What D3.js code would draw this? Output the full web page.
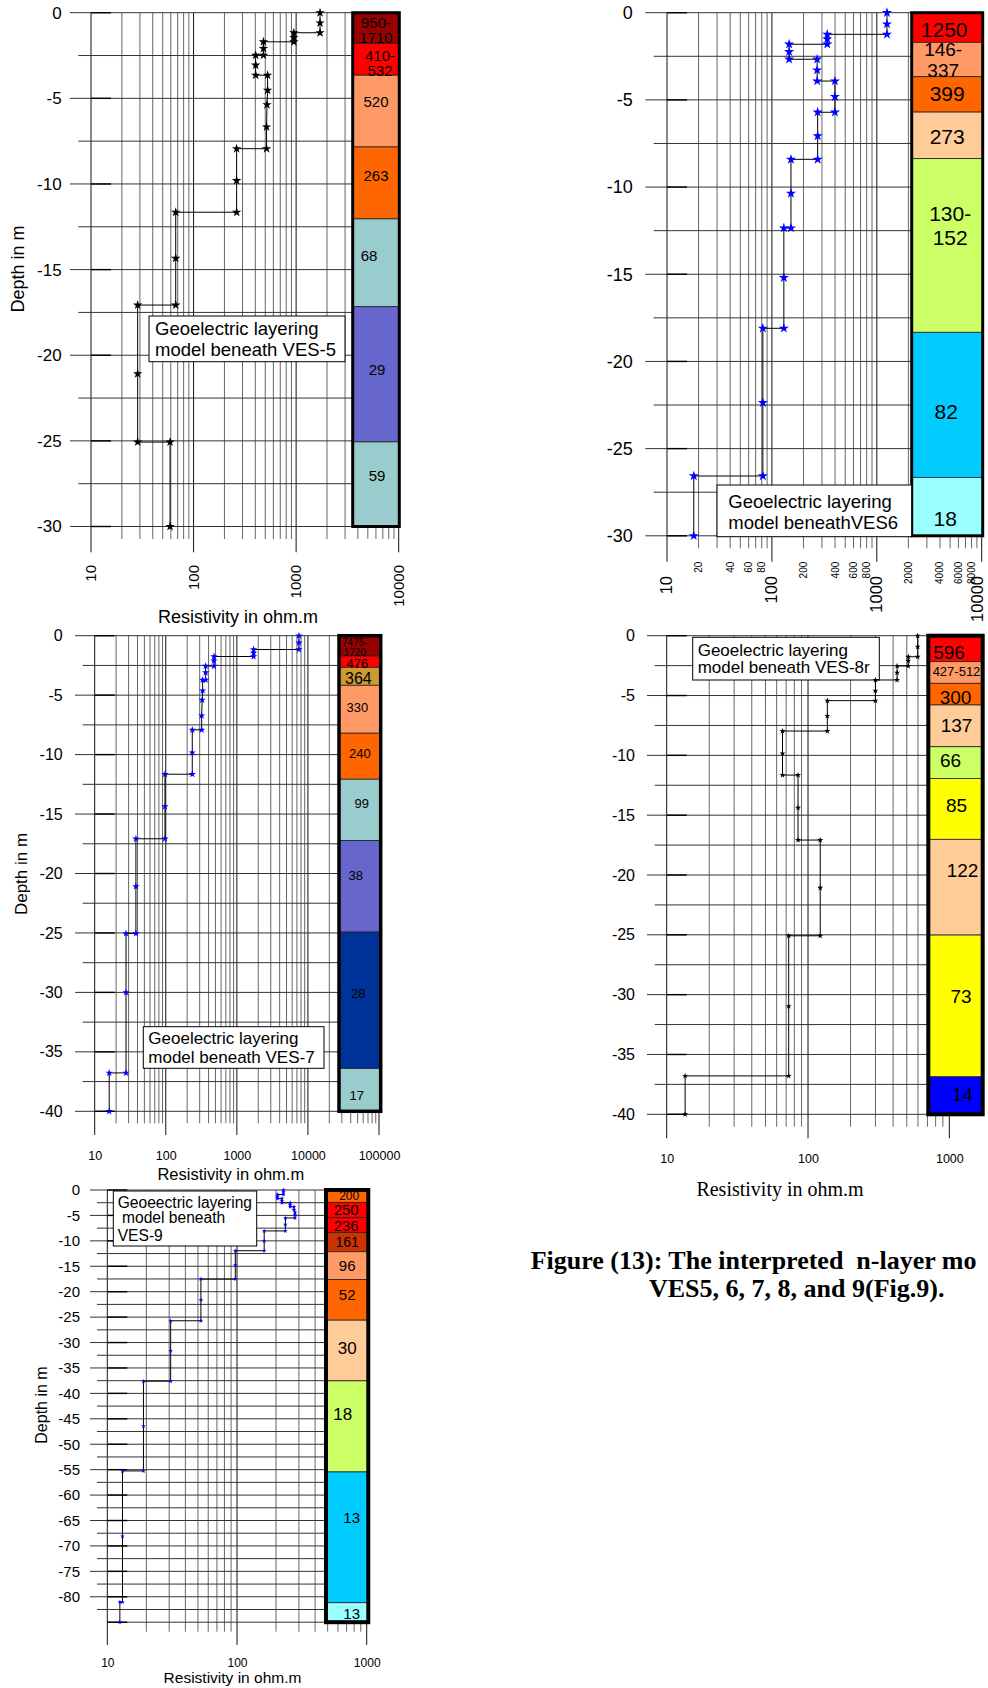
<!DOCTYPE html>
<html>
<head>
<meta charset="utf-8">
<title>Geoelectric layering models beneath VES-5 to VES-9</title>
<script src="https://cdn.jsdelivr.net/npm/d3@7/dist/d3.min.js"></script>
<style>
  body { margin: 0; background: #fff; }
  svg { display: block; }
</style>
</head>
<body>
<script>
// ---------- values ----------
// VES-5
const ves5Rho   = [1710,1710,1710,950,950,950,480,480,480,403,403,403,527,527,520,515,515,263,263,263,67,67,67,28.5,28.5,28.5,59,59];
const ves5Depth = [0,-0.6,-1.17,-1.17,-1.45,-1.7,-1.7,-2.09,-2.48,-2.48,-3.06,-3.65,-3.65,-4.53,-5.37,-6.67,-7.94,-7.94,-9.8,-11.65,-11.65,-14.34,-17.07,-17.07,-21.08,-25.07,-25.07,-30];
const ves5Top   = [0,-1.8,-3.65,-7.84,-12.04,-17.17,-25.06];
const ves5Base  = [-1.8,-3.65,-7.84,-12.04,-17.17,-25.06,-30];
const ves5Layer = ['950-\n1710','410-\n532','520','263','68','29','59'];
const ves5Note  = ['Geoelectric layering','model beneath VES-5'];
const ves5DepthTicks = [0,-5,-10,-15,-20,-25,-30];
const ves5RhoTicks   = [10,100,1000,10000];

// VES6
const ves6Rho   = [1250,1250,1250,337,337,337,146,146,146,270,270,270,399,399,399,273,273,273,152,152,152,130,130,130,82,82,82,18,18];
const ves6Depth = [0,-0.65,-1.24,-1.24,-1.51,-1.81,-1.81,-2.24,-2.67,-2.67,-3.29,-3.92,-3.92,-4.82,-5.71,-5.71,-7.07,-8.41,-8.41,-10.36,-12.35,-12.35,-15.2,-18.1,-18.1,-22.36,-26.57,-26.57,-30];
const ves6Top   = [0,-1.7,-3.67,-5.7,-8.37,-18.33,-26.65];
const ves6Base  = [-1.7,-3.67,-5.7,-8.37,-18.33,-26.65,-30];
const ves6Layer = ['1250','146-\n337','399','273','130-\n152','82','18'];
const ves6Note  = ['Geoelectric layering','model beneathVES6'];
const ves6DepthTicks = [0,-5,-10,-15,-20,-25,-30];
const ves6RhoTicks   = [10,100,1000,10000];
const ves6RhoMinor   = [20,40,60,80,200,400,600,800,2000,4000,6000,8000];

// VES-7
const ves7Rho   = [7475,7475,7475,1720,1720,1720,476,476,476,364,364,364,330,330,325,320,320,236,236,236,97.5,97.5,97.5,38,38,38,27.6,27.6,27.6,16,16];
const ves7Depth = [0,-0.59,-1.16,-1.16,-1.45,-1.75,-1.75,-2.1,-2.55,-2.55,-3.1,-3.72,-3.72,-4.62,-5.4,-6.72,-7.92,-7.92,-9.83,-11.65,-11.65,-14.37,-17.08,-17.08,-21.09,-25.04,-25.04,-30,-36.77,-36.77,-40];
const ves7Top   = [0,-1.71,-2.66,-4.17,-8.2,-12.07,-17.23,-24.93,-36.4];
const ves7Base  = [-1.71,-2.66,-4.17,-8.2,-12.07,-17.23,-24.93,-36.4,-40];
const ves7Layer = ['7475-\n1720','476','364','330','240','99','38','28','17'];
const ves7Note  = ['Geoelectric layering','model beneath VES-7'];
const ves7DepthTicks = [0,-5,-10,-15,-20,-25,-30,-35,-40];
const ves7RhoTicks   = [10,100,1000,10000,100000];

// VES-8r
const ves8Rho   = [597,597,597,512,512,512,427,427,427,300,300,300,137,137,137,66,66,66,85,85,85,122,122,122,73,73,73,13.5,13.5];
const ves8Depth = [0,-0.92,-1.76,-1.76,-2.1,-2.53,-2.53,-3.09,-3.7,-3.7,-4.6,-5.43,-5.43,-6.71,-7.97,-7.97,-9.84,-11.65,-11.65,-14.38,-17.08,-17.08,-21.07,-25.08,-25.08,-30.96,-36.79,-36.79,-40];
const ves8Top   = [0,-2.17,-3.98,-5.79,-9.28,-11.93,-17.02,-25.02,-36.87];
const ves8Base  = [-2.17,-3.98,-5.79,-9.28,-11.93,-17.02,-25.02,-36.87,-40];
const ves8Layer = ['596','427-512','300','137','66','85','122','73','14'];
const ves8Note  = ['Geoelectric layering','model beneath VES-8r'];
const ves8DepthTicks = [0,-5,-10,-15,-20,-25,-30,-35,-40];
const ves8RhoTicks   = [10,100,1000];

// VES-9
const ves9Rho   = [228,228,228,205,205,205,222,222,222,257,257,257,275,275,280,280,280,236,236,236,162,162,162,97,97,97,52.7,52.7,52.7,30.8,30.8,30.8,19,19,19,13.1,13.1,13.1,12.5,12.5];
const ves9Depth = [0,-0.45,-0.9,-0.9,-1.3,-1.7,-1.7,-2.1,-2.5,-2.5,-2.9,-3.3,-3.3,-3.9,-4.4,-4.9,-5.5,-5.5,-6.8,-8.05,-8.05,-10.04,-11.94,-11.94,-14.76,-17.52,-17.52,-21.65,-25.72,-25.72,-31.63,-37.6,-37.6,-46.4,-55.25,-55.25,-68.1,-81.04,-81.04,-85];
const ves9Top   = [0,-2.43,-5.45,-8.33,-12.14,-17.59,-25.6,-37.53,-55.45,-81.17];
const ves9Base  = [-2.43,-5.45,-8.33,-12.14,-17.59,-25.6,-37.53,-55.45,-81.17,-85];
const ves9Layer = ['200','250','236','161','96','52','30','18','13','13'];
const ves9Note  = ['Geoeectric layering',' model beneath','VES-9'];
const ves9DepthTicks = [0,-5,-10,-15,-20,-25,-30,-35,-40,-45,-50,-55,-60,-65,-70,-75,-80];
const ves9RhoTicks   = [10,100,1000];

// caption as far as it shows on the page
const captionLines = ['Figure (13): The interpreted  n-layer mo', 'VES5, 6, 7, 8, and 9(Fig.9).'];

// ---------- layout / style ----------
const W = 988, H = 1688;
const SANS = '"Liberation Sans", Arial, sans-serif';
const SERIF = '"Liberation Serif", "Times New Roman", serif';

const svg = d3.select('body').append('svg').attr('width', W).attr('height', H);

const panels = [
  { rho: ves5Rho, depth: ves5Depth, top: ves5Top, base: ves5Base, labels: ves5Layer,
    colors: ['#990000','#ff0000','#ff9966','#ff6600','#99cccc','#6666cc','#99cccc'],
    xDomain: [10, 10000], xRange: [91, 398.7], yDomain: [0, -30], yRange: [12.7, 526.5],
    col: [352.7, 399.3], colBorder: 3, hStart: [70, 78.3], vEnd: [539, 552.3],
    yTicks: ves5DepthTicks, yLabelX: 61.7, yFont: 17,
    xTicks: ves5RhoTicks, xRotate: true, xLabelY: 565, xFont: 15,
    xTitle: { x: 238, y: 617, fs: 18 }, yTitle: { x: 17.5, y: 269, fs: 18 },
    box: { x: 149, y: 316, w: 196, h: 45.7, tx: 155, ty: [335, 355.7], fs: 18.5, lines: ves5Note },
    starSize: 28, starColor: '#000',
    labelFont: [15,15,15,15,15,15,15], labelLh: 1.0,
    labelDx: [0,4,0,0,-7,1,1], labelDy: [2,3.4,-9,-7.5,-7,-5,-8.7] },

  { rho: ves6Rho, depth: ves6Depth, top: ves6Top, base: ves6Base, labels: ves6Layer,
    colors: ['#ff0000','#ff9966','#ff6600','#ffcc99','#ccff66','#00ccff','#99ffff'],
    xDomain: [10, 10000], xRange: [667, 981.7], yDomain: [0, -30], yRange: [12.7, 535.8],
    col: [911.7, 982.7], colBorder: 3, hStart: [645.3, 653.7], vEnd: [548.3, 561.7],
    yTicks: ves6DepthTicks, yLabelX: 632.7, yFont: 18,
    xTicks: ves6RhoTicks, xRotate: true, xLabelY: 576, xFont: 16.5,
    xMinor: ves6RhoMinor, xMinorY: 561.7, xMinorFont: 10,
    box: { x: 717, y: 485, w: 194.7, h: 51.7, tx: 728.3, ty: [508.3, 529.3], fs: 18.5, lines: ves6Note },
    starSize: 32, starColor: '#0000ff',
    labelFont: [21,19,21,21,21,21,21], labelLh: 1.1,
    labelDx: [-3,-4,0,0,3,-1,-2], labelDy: [2,0,-1,1,-20,7,12] },

  { rho: ves7Rho, depth: ves7Depth, top: ves7Top, base: ves7Base, labels: ves7Layer,
    colors: ['#990000','#ff0000','#cc9933','#ff9966','#ff6600','#99cccc','#6666cc','#003399','#99cccc'],
    xDomain: [10, 100000], xRange: [94.7, 379], yDomain: [0, -40], yRange: [635.7, 1111.3],
    col: [339, 380.7], colBorder: 3.5, hStart: [75, 82.7], vEnd: [1123.3, 1135],
    yTicks: ves7DepthTicks, yLabelX: 62.7, yFont: 16,
    xTicks: ves7RhoTicks, xRotate: false, xLabelY: 1156, xFont: 12.5,
    xTitle: { x: 230.8, y: 1174, fs: 16.5 }, yTitle: { x: 21, y: 874, fs: 17 },
    box: { x: 143.3, y: 1026.7, w: 180.7, h: 41.6, tx: 148.3, ty: [1044, 1063.3], fs: 17, lines: ves7Note },
    starSize: 17, starColor: '#0000ff',
    labelFont: [10,13,16,13,13,13,13,13,13], labelLh: 0.95,
    labelDx: [-5,-2.5,-1.5,-2.5,0,2,-4,-1.5,-3], labelDy: [1.5,1.6,2,-2,-3,-6.7,-11,-6.7,5] },

  { rho: ves8Rho, depth: ves8Depth, top: ves8Top, base: ves8Base, labels: ves8Layer,
    colors: ['#ff0000','#ff9966','#ff6600','#ffcc99','#ccff66','#ffff00','#ffcc99','#ffff00','#0000ff'],
    xDomain: [10, 1700], xRange: [666.7, 981.9], yDomain: [0, -40], yRange: [635.7, 1114.3],
    col: [928.3, 982.7], colBorder: 4, hStart: [647, 654.7], vEnd: [1126.7, 1138.3],
    yTicks: ves8DepthTicks, yLabelX: 635, yFont: 16,
    xTicks: ves8RhoTicks, xRotate: false, xLabelY: 1158.3, xFont: 12.5,
    xTitle: { x: 780, y: 1189, fs: 20, serif: true },
    box: { x: 692.7, y: 637.3, w: 186.6, h: 42.7, tx: 697.7, ty: [655.7, 673.3], fs: 17, lines: ves8Note },
    starSize: 11.5, starColor: '#000',
    labelFont: [19,13,19,19,19,19,19,19,19], labelLh: 1.0,
    labelDx: [-6.5,1,0,1,-5,1,7,5.5,7], labelDy: [3,-1,3,-1,-2,-4,-17,-10,-1.5] },

  { rho: ves9Rho, depth: ves9Depth, top: ves9Top, base: ves9Base, labels: ves9Layer,
    colors: ['#ff6600','#ff0000','#ff0000','#cc3300','#ff9966','#ff6600','#ffcc99','#ccff66','#00ccff','#99ffff'],
    xDomain: [10, 1000], xRange: [107.3, 366.7], yDomain: [0, -85], yRange: [1190, 1622.2],
    col: [326, 368.3], colBorder: 4, hStart: [90, 97], lastFromAxis: true, vEnd: [1631.7, 1645],
    yTicks: ves9DepthTicks, yLabelX: 80, yFont: 15,
    xTicks: ves9RhoTicks, xRotate: false, xLabelY: 1662.3, xFont: 12,
    xTitle: { x: 232.5, y: 1678, fs: 15.5 }, yTitle: { x: 41.5, y: 1405, fs: 16 },
    box: { x: 113.3, y: 1191, w: 143.4, h: 55, tx: 117.7, ty: [1208.3, 1223.3, 1240.5], fs: 15.6, lines: ves9Note },
    starSize: 7, starColor: '#0000ff',
    labelFont: [12,15,15,14,15,15,17,17,15,15], labelLh: 1.0,
    labelDx: [2,-1,-1,0,0,0,0,-4.5,4.5,4.5], labelDy: [0,0,1,0,0,-5,-2.6,-13,-20,1] }
];

panels.forEach(drawPanel);

// caption
svg.append('text').attr('x', 530.7).attr('y', 1269)
  .attr('font-family', SERIF).attr('font-weight', 'bold').attr('font-size', 26)
  .style('white-space', 'pre').text(captionLines[0]);
svg.append('text').attr('x', 796.7).attr('y', 1296.5).attr('text-anchor', 'middle')
  .attr('font-family', SERIF).attr('font-weight', 'bold').attr('font-size', 26)
  .text(captionLines[1]);

function drawPanel(p) {
  const x = d3.scaleLog().domain(p.xDomain).range(p.xRange);
  const y = d3.scaleLinear().domain(p.yDomain).range(p.yRange);
  const g = svg.append('g');

  const isDecade = v => Math.abs(Math.log10(v) - Math.round(Math.log10(v))) < 1e-9;
  const isMajor = v => Math.abs(v % 5) < 1e-9;

  // vertical grid (every 1..9 x decade)
  g.append('g').selectAll('line').data(x.ticks()).join('line')
    .attr('x1', d => x(d)).attr('x2', d => x(d))
    .attr('y1', y(0)).attr('y2', d => isDecade(d) ? p.vEnd[1] : p.vEnd[0])
    .attr('stroke', d => isDecade(d) ? '#111' : '#666')
    .attr('stroke-width', 1);

  // horizontal grid every 2.5 m
  const hLines = d3.range(0, p.yDomain[1] - 0.1, -2.5);
  g.append('g').selectAll('line').data(hLines).join('line')
    .attr('x1', d => (p.lastFromAxis && d === p.yDomain[1]) ? x(p.xDomain[0]) : (isMajor(d) ? p.hStart[0] : p.hStart[1]))
    .attr('x2', p.col[1])
    .attr('y1', d => y(d)).attr('y2', d => y(d))
    .attr('stroke', '#333').attr('stroke-width', 1);

  // dark tick stubs on the labelled lines
  g.append('g').selectAll('line').data(hLines.filter(isMajor)).join('line')
    .attr('x1', x(p.xDomain[0])).attr('x2', x(p.xDomain[0]) + 20)
    .attr('y1', d => y(d)).attr('y2', d => y(d))
    .attr('stroke', '#000').attr('stroke-width', 1.4);

  // layer column
  const cw = p.col[1] - p.col[0];
  g.append('g').selectAll('rect').data(p.top).join('rect')
    .attr('x', p.col[0]).attr('width', cw)
    .attr('y', d => y(d)).attr('height', (d, i) => y(p.base[i]) - y(d))
    .attr('fill', (d, i) => p.colors[i])
    .attr('stroke', '#222').attr('stroke-width', 0.8);
  g.append('rect')
    .attr('x', p.col[0]).attr('y', y(p.top[0])).attr('width', cw)
    .attr('height', y(p.base[p.base.length - 1]) - y(p.top[0]))
    .attr('fill', 'none').attr('stroke', '#000').attr('stroke-width', p.colBorder);

  const cx = (p.col[0] + p.col[1]) / 2;
  p.labels.forEach((lab, i) => {
    const lines = lab.split('\n');
    const fs = p.labelFont[i], lh = fs * p.labelLh;
    const mid = (y(p.top[i]) + y(p.base[i])) / 2 + p.labelDy[i];
    const t = g.append('text').attr('font-family', SANS).attr('font-size', fs)
      .attr('text-anchor', 'middle').attr('fill', '#000');
    lines.forEach((ln, k) => {
      t.append('tspan').attr('x', cx + p.labelDx[i])
        .attr('y', mid + 0.36 * fs + (k - (lines.length - 1) / 2) * lh).text(ln);
    });
  });

  // annotation box
  const b = p.box;
  g.append('rect').attr('x', b.x).attr('y', b.y).attr('width', b.w).attr('height', b.h)
    .attr('fill', '#fff').attr('stroke', '#000').attr('stroke-width', 1);
  b.lines.forEach((ln, k) => {
    g.append('text').attr('x', b.tx).attr('y', b.ty[k])
      .attr('font-family', SANS).attr('font-size', b.fs).style('white-space', 'pre').text(ln);
  });

  // measured curve and stars
  const pts = d3.zip(p.rho, p.depth);
  g.append('path').datum(pts)
    .attr('d', d3.line().x(d => x(d[0])).y(d => y(d[1])))
    .attr('fill', 'none').attr('stroke', '#000').attr('stroke-width', 1);
  g.append('g').selectAll('path').data(pts).join('path')
    .attr('transform', d => `translate(${x(d[0])},${y(d[1])})`)
    .attr('d', d3.symbol(d3.symbolStar, p.starSize))
    .attr('fill', p.starColor);

  // depth labels
  const yAxis = d3.axisLeft(y).tickValues(p.yTicks).tickSize(0).tickPadding(0).tickFormat(d => String(d));
  const yg = g.append('g').attr('transform', `translate(${p.yLabelX},0)`).call(yAxis);
  yg.select('.domain').remove();
  yg.selectAll('text').attr('font-size', p.yFont).attr('font-family', SANS).attr('fill', '#000');

  // resistivity labels
  const xLabels = (vals, top, fs, rotate) => {
    const ax = d3.axisBottom(x).tickValues(vals).tickSize(0).tickPadding(0).tickFormat(d => String(d));
    const xg = g.append('g').attr('transform', `translate(0,${top})`).call(ax);
    xg.select('.domain').remove();
    const tx = xg.selectAll('text').attr('font-size', fs).attr('font-family', SANS).attr('fill', '#000');
    if (rotate) {
      // keep the last rotated label inside the page edge
      tx.attr('x', 0).attr('y', 0).attr('text-anchor', 'end').attr('transform', 'rotate(-90)')
        .attr('dy', d => Math.min(0.3 * fs, W - 2 - x(d) - 0.22 * fs));
    } else {
      tx.attr('y', 0).attr('dy', '0.35em');
    }
  };
  xLabels(p.xTicks, p.xLabelY, p.xFont, p.xRotate);
  if (p.xMinor) xLabels(p.xMinor, p.xMinorY, p.xMinorFont, true);

  if (p.xTitle) {
    g.append('text').attr('x', p.xTitle.x).attr('y', p.xTitle.y).attr('dy', '0.35em')
      .attr('text-anchor', 'middle').attr('font-size', p.xTitle.fs)
      .attr('font-family', p.xTitle.serif ? SERIF : SANS).text('Resistivity in ohm.m');
  }
  if (p.yTitle) {
    g.append('text').attr('transform', `translate(${p.yTitle.x},${p.yTitle.y}) rotate(-90)`)
      .attr('dy', '0.35em').attr('text-anchor', 'middle').attr('font-size', p.yTitle.fs)
      .attr('font-family', SANS).text('Depth in m');
  }
}
</script>
</body>
</html>
